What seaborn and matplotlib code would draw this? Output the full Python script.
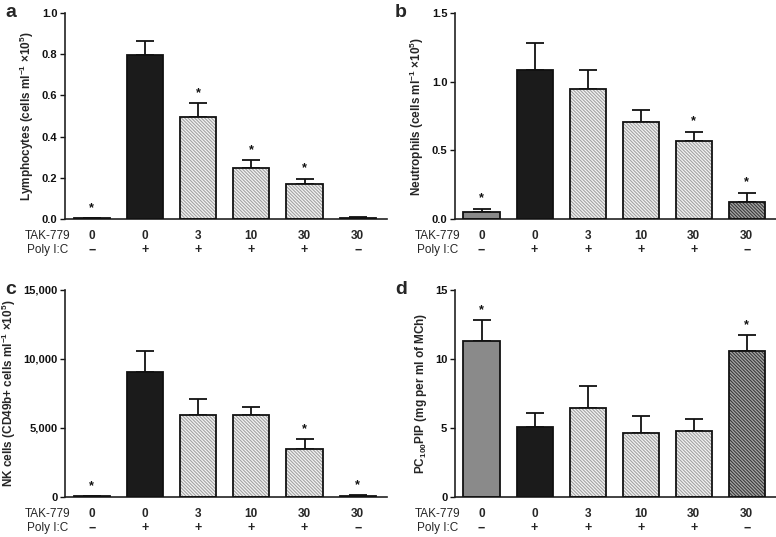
import matplotlib
matplotlib.use("Agg")
import matplotlib.pyplot as plt
import seaborn as sns
import pandas as pd
import numpy as np
from matplotlib.patches import Rectangle
from matplotlib.ticker import FuncFormatter

# ---------------- data ----------------
groups = ["G1", "G2", "G3", "G4", "G5", "G6"]
tak779 = ["0", "0", "3", "10", "30", "30"]
polyic = ["\u2212", "+", "+", "+", "+", "\u2212"]

lymph_mean = [0.004, 0.795, 0.497, 0.249, 0.170, 0.005]
lymph_err = [0.001, 0.070, 0.064, 0.037, 0.026, 0.003]
lymph_star = [True, False, True, True, True, False]

neut_mean = [0.049, 1.087, 0.949, 0.704, 0.566, 0.124]
neut_err = [0.026, 0.197, 0.138, 0.090, 0.070, 0.068]
neut_star = [True, False, False, False, True, True]

nk_mean = [60, 9046, 5961, 5911, 3450, 80]
nk_err = [20, 1530, 1150, 620, 730, 60]
nk_star = [True, False, False, False, True, True]

pc_mean = [11.30, 5.08, 6.46, 4.65, 4.77, 10.55]
pc_err = [1.51, 1.02, 1.60, 1.21, 0.87, 1.16]
pc_star = [True, False, False, False, False, True]

bar_colors = ["#8a8a8a", "#1b1b1b", "#f4f4f4", "#f4f4f4", "#f4f4f4", "#a8a8a8"]
hatch_colors = [None, None, "#a2a2a2", "#a2a2a2", "#a2a2a2", "#3a3a3a"]

panels = [
    dict(letter="a", mean=lymph_mean, err=lymph_err, star=lymph_star,
         ylim=(0, 1.0), ticks=[0.0, 0.2, 0.4, 0.6, 0.8, 1.0], fmt="{:.1f}",
         ylabel="Lymphocytes (cells ml$^{\\mathbf{-1}}$ \u00d710$^{\\mathbf{5}}$)",
         pos=[0.0838, 0.5922, 0.415, 0.3836]),
    dict(letter="b", mean=neut_mean, err=neut_err, star=neut_star,
         ylim=(0, 1.5), ticks=[0.0, 0.5, 1.0, 1.5], fmt="{:.1f}",
         ylabel="Neutrophils (cells ml$^{\\mathbf{-1}}$ \u00d710$^{\\mathbf{5}}$)",
         pos=[0.5863, 0.5922, 0.4137, 0.3836]),
    dict(letter="c", mean=nk_mean, err=nk_err, star=nk_star,
         ylim=(0, 15000), ticks=[0, 5000, 10000, 15000], fmt="{:,.0f}",
         ylabel="NK cells (CD49b+ cells ml$^{\\mathbf{-1}}$ \u00d710$^{\\mathbf{5}}$)",
         pos=[0.0838, 0.0745, 0.415, 0.3855]),
    dict(letter="d", mean=pc_mean, err=pc_err, star=pc_star,
         ylim=(0, 15), ticks=[0, 5, 10, 15], fmt="{:.0f}",
         ylabel="PC$_{\\mathbf{100}}$PIP (mg per ml of MCh)",
         pos=[0.5863, 0.0745, 0.4137, 0.3855]),
]

sns.set_theme(style="ticks")
plt.rcParams["font.family"] = ["Liberation Sans", "DejaVu Sans"]
plt.rcParams["mathtext.fontset"] = "custom"
plt.rcParams["mathtext.rm"] = "Liberation Sans:bold"
plt.rcParams["mathtext.bf"] = "Liberation Sans:bold"
plt.rcParams["mathtext.it"] = "Liberation Sans:bold"
plt.rcParams["hatch.linewidth"] = 0.8

fig = plt.figure(figsize=(7.76, 5.37), dpi=100)

for p in panels:
    ax = fig.add_axes(p["pos"])
    df = pd.DataFrame({"group": groups, "value": p["mean"]})
    sns.barplot(data=df, x="group", y="value", hue="group",
                palette=dict(zip(groups, bar_colors)), legend=False,
                width=0.68, errorbar=None, ax=ax, saturation=1,
                linewidth=0, zorder=2)
    bars = [pt for pt in ax.patches if isinstance(pt, Rectangle)][:len(groups)]
    for i, b in enumerate(bars):
        hc = hatch_colors[i]
        if hc is not None:
            b.set_hatch("\\" * 10)
            b.set_edgecolor(hc)
            b.set_linewidth(0)
        outline = Rectangle((b.get_x(), b.get_y()), b.get_width(), b.get_height(),
                            fill=False, edgecolor="#111111", linewidth=1.3, zorder=3)
        ax.add_patch(outline)
    xs = np.arange(len(groups))
    ax.errorbar(xs, p["mean"], yerr=[np.zeros(len(groups)), p["err"]],
                fmt="none", ecolor="#111111", elinewidth=1.3, capsize=6.5,
                capthick=1.3, zorder=1)
    for i, s in enumerate(p["star"]):
        if s:
            ax.annotate("*", xy=(xs[i], p["mean"][i] + p["err"][i]),
                        xytext=(0, 3), textcoords="offset points",
                        ha="center", va="bottom", fontsize=9, fontweight="bold",
                        color="#111111")
    ax.set_xlim(-0.5, 5.55)
    ax.set_ylim(*p["ylim"])
    ax.set_yticks(p["ticks"])
    ax.yaxis.set_major_formatter(FuncFormatter(lambda v, _, f=p["fmt"]: f.format(v)))
    ax.set_xticks([])
    ax.set_xlabel("")
    ax.set_ylabel(p["ylabel"], fontsize=8.5, fontweight="bold", labelpad=4)
    for lab in ax.get_yticklabels():
        lab.set_fontweight("bold")
        lab.set_fontsize(8)
    ax.tick_params(axis="y", length=3.5, width=1.0, pad=2, colors="#111111")
    sns.despine(ax=ax)
    for sp in ["left", "bottom"]:
        ax.spines[sp].set_linewidth(1.2)
        ax.spines[sp].set_color("#222222")
    ax.set_facecolor("white")
    # category rows
    for i in range(len(groups)):
        ax.annotate(tak779[i], xy=(xs[i], 0), xycoords=("data", "axes fraction"),
                    xytext=(0, -12), textcoords="offset points", ha="center",
                    va="center", fontsize=8.5, fontweight="bold")
        ax.annotate(polyic[i], xy=(xs[i], 0), xycoords=("data", "axes fraction"),
                    xytext=(0, -22.5), textcoords="offset points", ha="center",
                    va="center", fontsize=9, fontweight="bold")
    ax.annotate("TAK-779", xy=(0, 0), xycoords="axes fraction", xytext=(4, -12),
                textcoords="offset points", ha="right", va="center", fontsize=8.5)
    ax.annotate("Poly I:C", xy=(0, 0), xycoords="axes fraction", xytext=(2.5, -22.5),
                textcoords="offset points", ha="right", va="center", fontsize=8.5)
    ax.annotate(p["letter"], xy=(0, 1), xycoords="axes fraction", xytext=(-39, 0),
                textcoords="offset points", ha="center", va="center",
                fontsize=14, fontweight="bold")

fig.savefig("out.png", dpi=100, facecolor="white")
